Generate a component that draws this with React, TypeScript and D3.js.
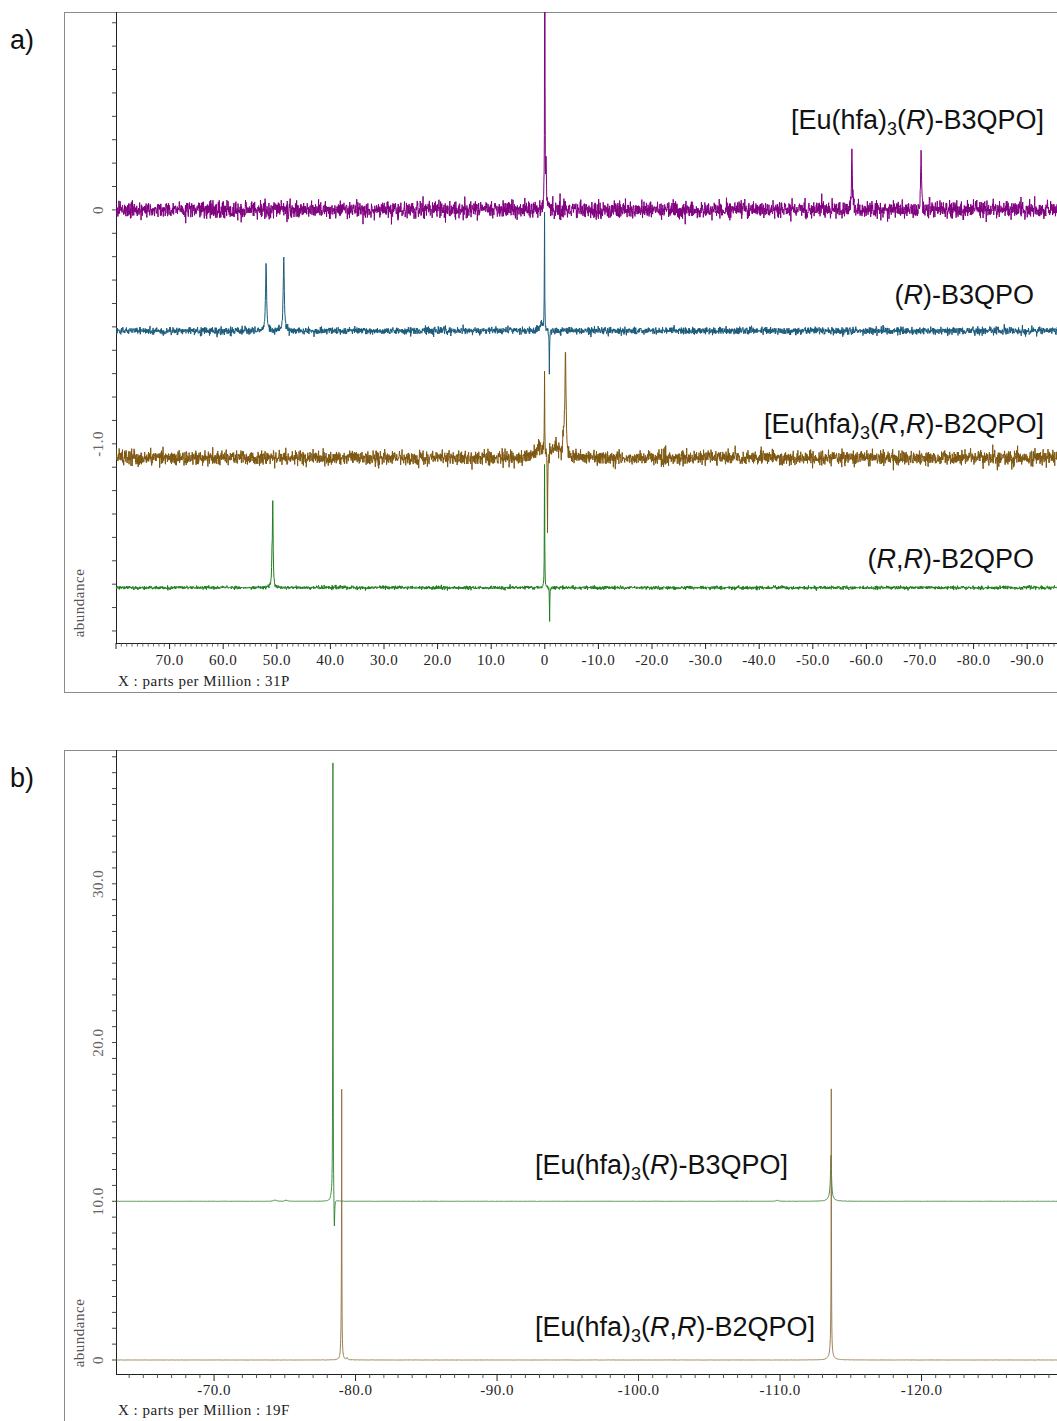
import React, { useMemo } from "react";
import * as d3 from "d3";

type Peak = [number, number, number]; // [ppm, height, half-width (ppm)]

// ---------- Panel a: 31P spectra ----------
const aXTicks = [70, 60, 50, 40, 30, 20, 10, 0, -10, -20, -30, -40, -50, -60, -70, -80, -90];
const aYLabelTicks = [0, -1.0];
const aColors = ["#800080", "#1b5b7c", "#7e5710", "#1e7e1e"];
const aBaselines = [0, -0.517, -1.06, -1.615];
const aNoise = [0.018, 0.0078, 0.0155, 0.0038];
const aPeaksPurple: Peak[] = [
  [0.0, 1.6, 0.04], [-0.25, 0.16, 0.1], [-57.3, 0.25, 0.1], [-70.2, 0.245, 0.1],
];
const aPeaksBlue: Peak[] = [
  [52.0, 0.285, 0.12], [48.7, 0.31, 0.12], [0.05, 0.5, 0.04], [-0.85, -0.17, 0.05], [0.6, 0.03, 0.4],
];
const aPeaksBrown: Peak[] = [
  [0.05, 0.34, 0.04], [-0.5, -0.32, 0.05], [-3.86, 0.39, 0.12], [-3.6, 0.08, 0.3], [0.9, 0.05, 0.9], [-2.0, 0.05, 0.5],
];
const aPeaksGreen: Peak[] = [
  [50.75, 0.345, 0.08], [50.9, 0.1, 0.08], [0.05, 0.525, 0.04], [-0.9, -0.135, 0.04],
];
const aPeaks = [aPeaksPurple, aPeaksBlue, aPeaksBrown, aPeaksGreen];

// ---------- Panel b: 19F spectra ----------
const bXTicks = [-70, -80, -90, -100, -110, -120];
const bYLabelTicks = [0, 10, 20, 30];
const bColors = ["#2c7f2c", "#8f7040"];
const bBaselines = [10.0, 0.0];
const bPeaksGreen: Peak[] = [
  [-78.4, 27.7, 0.015], [-78.5, -2.2, 0.03], [-78.3, 0.25, 0.08],
  [-113.6, 2.5, 0.04], [-113.58, 0.4, 0.15], [-74.3, 0.08, 0.1], [-75.1, 0.07, 0.1], [-109.8, 0.06, 0.1],
];
const bPeaksTan: Peak[] = [
  [-79.02, 15.3, 0.012], [-79.0, 2.2, 0.04], [-79.4, 0.12, 0.04],
  [-113.62, 15.8, 0.012], [-113.6, 1.2, 0.06], [-113.6, 0.2, 0.2],
];
const bPeaks = [bPeaksGreen, bPeaksTan];

function mulberry32(a: number) {
  return function () {
    a |= 0; a = (a + 0x6d2b79f5) | 0;
    let t = Math.imul(a ^ (a >>> 15), 1 | a);
    t = (t + Math.imul(t ^ (t >>> 7), 61 | t)) ^ t;
    return ((t ^ (t >>> 14)) >>> 0) / 4294967296;
  };
}

// baseline noise texture (seeded) + peak list
function buildSpectrum(from: number, to: number, step: number, peaks: Peak[], base: number, noise: number, seed: number) {
  const rnd = mulberry32(seed);
  const gauss = () => {
    const u = Math.max(rnd(), 1e-9), v = rnd();
    return Math.sqrt(-2 * Math.log(u)) * Math.cos(2 * Math.PI * v);
  };
  const xs = d3.range(from, to, -step).concat(peaks.map((p) => p[0]));
  xs.sort((a, b) => b - a);
  return xs.map((x) => {
    let y = base + noise * gauss();
    for (const [c, h, w] of peaks) {
      const d = (x - c) / w;
      y += h / (1 + d * d);
    }
    return [x, y] as [number, number];
  });
}

function Label({ x, y, anchor, parts }: { x: number; y: number; anchor: string; parts: string[] }) {
  const [pre, sub, open, ital, post] = parts;
  return (
    <text x={x} y={y} textAnchor={anchor} fontFamily="Liberation Sans, Arial, sans-serif" fontSize={27} fill="#111">
      <tspan>{pre}</tspan>
      {sub ? <tspan fontSize={18} dy={6}>{sub}</tspan> : null}
      <tspan dy={sub ? -6 : 0}>{open}</tspan>
      {ital.split(",").map((s, i) => (
        <React.Fragment key={i}>
          {i > 0 ? <tspan>,</tspan> : null}
          <tspan fontStyle="italic">{s}</tspan>
        </React.Fragment>
      ))}
      <tspan>{post}</tspan>
    </text>
  );
}

export default function App() {
  const W = 1057, H = 1421;
  const ax = d3.scaleLinear().domain([80, -100]).range([116, 116 + 180 * 5.36]);
  const ay = d3.scaleLinear().domain([0.846, -1.86]).range([12, 645]);
  const bx = d3.scaleLinear().domain([-63.07, -130]).range([116, 116 + 66.93 * 14.15]);
  const by = d3.scaleLinear().domain([38.43, 0]).range([750, 1360]);

  const aData = useMemo(
    () => aPeaks.map((pk, i) => buildSpectrum(80, -100, 0.045, pk, aBaselines[i], aNoise[i], 17 + i * 31)),
    []
  );
  const bData = useMemo(
    () => bPeaks.map((pk, i) => buildSpectrum(-63.1, -130, 0.01, pk, bBaselines[i], 0.004, 7 + i)),
    []
  );
  const aLine = d3.line<[number, number]>().x((d) => ax(d[0])).y((d) => ay(d[1]));
  const bLine = d3.line<[number, number]>().x((d) => bx(d[0])).y((d) => by(d[1]));

  const aMinor = d3.range(79, -101, -1).filter((v) => v % 10 !== 0);
  const aMajor = d3.range(80, -101, -10);
  const aYTicks = d3.range(-18, 9, 1).map((v) => v / 10);
  const bMinor = d3.range(-64, -131, -1).filter((v) => v % 10 !== 0);
  const bMajor = d3.range(-70, -131, -10);
  const bYTicks = d3.range(0, 39, 1);

  const serif = "Liberation Serif, Times New Roman, serif";
  const fs = 15;
  const ls = 0.5;
  const aAxisY = 643;
  const bAxisY = 1374;

  return (
    <svg width={W} height={H} style={{ position: "absolute", left: 0, top: 0, display: "block", background: "#fff" }}>
      <defs>
        <clipPath id="clipA"><rect x={116} y={12} width={1000} height={aAxisY - 12} /></clipPath>
        <clipPath id="clipB"><rect x={116} y={750} width={1000} height={bAxisY - 750} /></clipPath>
      </defs>
      {/* ===== Panel a ===== */}
      <text x={10} y={49} fontFamily="Liberation Sans, Arial, sans-serif" fontSize={27} fill="#111">a)</text>
      <rect x={64.5} y={12.5} width={1100} height={680} fill="none" stroke="#8a8a8a" strokeWidth={1} />
      <line x1={116.5} x2={116.5} y1={12} y2={aAxisY} stroke="#222" />
      {aYTicks.map((v) => (
        <line key={v} x1={112} x2={116.5} y1={ay(v)} y2={ay(v)} stroke="#444" />
      ))}
      {aYLabelTicks.map((v) => (
        <text key={v} transform={`translate(103,${ay(v)}) rotate(-90)`} textAnchor="middle" fontFamily={serif} fontSize={fs} letterSpacing={ls} fill="#666">
          {v === 0 ? "0" : v.toFixed(1)}
        </text>
      ))}
      <text transform={`translate(84,603) rotate(-90)`} textAnchor="middle" fontFamily={serif} fontSize={fs} letterSpacing={ls} fill="#555">abundance</text>
      <line x1={116} x2={1100} y1={aAxisY + 0.5} y2={aAxisY + 0.5} stroke="#222" />
      {aMinor.map((v) => (
        <line key={v} x1={ax(v)} x2={ax(v)} y1={aAxisY} y2={aAxisY + 3.5} stroke="#444" strokeWidth={0.8} />
      ))}
      {aMajor.map((v) => (
        <line key={v} x1={ax(v)} x2={ax(v)} y1={aAxisY} y2={aAxisY + 6} stroke="#222" />
      ))}
      {aXTicks.map((v) => (
        <text key={v} x={ax(v)} y={665} textAnchor="middle" fontFamily={serif} fontSize={fs} letterSpacing={ls} fill="#222">
          {v === 0 ? "0" : v.toFixed(1)}
        </text>
      ))}
      <text x={118} y={686} fontFamily={serif} fontSize={fs} letterSpacing={ls} fill="#222">X : parts per Million : 31P</text>
      <g clipPath="url(#clipA)">
        {aData.map((d, i) => (
          <path key={i} d={aLine(d) || ""} fill="none" stroke={aColors[i]} strokeWidth={1} />
        ))}
      </g>
      <Label x={1044} y={129} anchor="end" parts={["[Eu(hfa)", "3", "(", "R", ")-B3QPO]"]} />
      <Label x={1034} y={304} anchor="end" parts={["", "", "(", "R", ")-B3QPO"]} />
      <Label x={1044} y={433} anchor="end" parts={["[Eu(hfa)", "3", "(", "R,R", ")-B2QPO]"]} />
      <Label x={1034} y={568} anchor="end" parts={["", "", "(", "R,R", ")-B2QPO"]} />

      {/* ===== Panel b ===== */}
      <text x={10} y={787} fontFamily="Liberation Sans, Arial, sans-serif" fontSize={27} fill="#111">b)</text>
      <rect x={64.5} y={750.5} width={1100} height={700} fill="none" stroke="#8a8a8a" strokeWidth={1} />
      <line x1={116.5} x2={116.5} y1={750} y2={bAxisY} stroke="#222" />
      {bYTicks.map((v) => (
        <line key={v} x1={112} x2={116.5} y1={by(v)} y2={by(v)} stroke="#444" />
      ))}
      {bYLabelTicks.map((v) => (
        <text key={v} transform={`translate(103,${by(v)}) rotate(-90)`} textAnchor="middle" fontFamily={serif} fontSize={fs} letterSpacing={ls} fill="#666">
          {v === 0 ? "0" : v.toFixed(1)}
        </text>
      ))}
      <text transform={`translate(84,1333) rotate(-90)`} textAnchor="middle" fontFamily={serif} fontSize={fs} letterSpacing={ls} fill="#555">abundance</text>
      <line x1={116} x2={1100} y1={bAxisY + 0.5} y2={bAxisY + 0.5} stroke="#222" />
      {bMinor.map((v) => (
        <line key={v} x1={bx(v)} x2={bx(v)} y1={bAxisY} y2={bAxisY + 4} stroke="#444" strokeWidth={0.9} />
      ))}
      {bMajor.map((v) => (
        <line key={v} x1={bx(v)} x2={bx(v)} y1={bAxisY} y2={bAxisY + 7} stroke="#222" />
      ))}
      {bXTicks.map((v) => (
        <text key={v} x={bx(v)} y={1395} textAnchor="middle" fontFamily={serif} fontSize={fs} letterSpacing={ls} fill="#222">
          {v.toFixed(1)}
        </text>
      ))}
      <text x={118} y={1415} fontFamily={serif} fontSize={fs} letterSpacing={ls} fill="#222">X : parts per Million : 19F</text>
      <g clipPath="url(#clipB)">
        {bData.map((d, i) => (
          <path key={i} d={bLine(d) || ""} fill="none" stroke={bColors[i]} strokeWidth={0.9} />
        ))}
      </g>
      <Label x={535} y={1174} anchor="start" parts={["[Eu(hfa)", "3", "(", "R", ")-B3QPO]"]} />
      <Label x={535} y={1336} anchor="start" parts={["[Eu(hfa)", "3", "(", "R,R", ")-B2QPO]"]} />
    </svg>
  );
}
